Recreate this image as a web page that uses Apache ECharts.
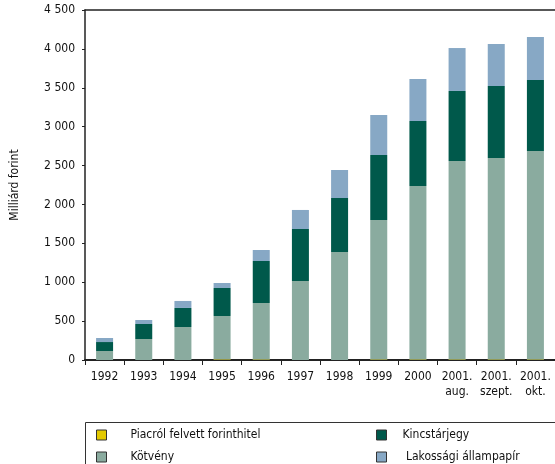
<html>
    <head>
        <meta charset="UTF-8" />
        <script src="https://cdn.jsdelivr.net/npm/echarts@6/dist/echarts.min.js"></script>
        <style>
            body { margin: 0; background: #fff; }
        </style>
    </head>
    <body>
        <div id="container" style="width: 555px; height: 464px;"></div>
        <script>
            // kategóriák
            var categories = ['1992', '1993', '1994', '1995', '1996', '1997', '1998', '1999', '2000', '2001.\naug.', '2001.\nszept.', '2001.\nokt.'];
            // milliárd forint
            var piacrol = [0, 0, 0, 8, 8, 0, 0, 8, 8, 8, 8, 8];
            var kotveny = [116, 270, 424, 558, 725, 1016, 1389, 1792, 2229, 2551, 2589, 2679];
            var kincstarjegy = [115, 193, 245, 360, 540, 668, 694, 836, 836, 900, 926, 913];
            var lakossagi = [52, 51, 90, 64, 141, 245, 360, 514, 540, 552, 540, 553];
            var yTicks = [0, 500, 1000, 1500, 2000, 2500, 3000, 3500, 4000, 4500];

            var font = "'Liberation Sans Narrow', 'DejaVu Sans Condensed', sans-serif";
            var colors = {
                piacrol: '#e3c900',
                kotveny: '#8aab9f',
                kincstarjegy: '#00594b',
                lakossagi: '#87a8c5'
            };

            function fmt(v) {
                var s = String(v);
                if (s.length > 3) {
                    s = s.slice(0, s.length - 3) + ' ' + s.slice(s.length - 3);
                }
                return s;
            }

            function legendBox(names, left, gap) {
                return {
                    data: names,
                    orient: 'vertical',
                    left: left,
                    top: 429,
                    height: 40,
                    padding: 0,
                    itemWidth: 10,
                    itemHeight: 10,
                    itemGap: 10,
                    selectedMode: false,
                    icon: 'rect',
                    itemStyle: { borderColor: '#333', borderWidth: 1 },
                    formatter: function (name) {
                        return name === 'Lakossági állampapír' ? ' ' + name : name;
                    },
                    textStyle: {
                        fontFamily: font,
                        fontSize: 12,
                        color: '#111',
                        padding: [0, 0, 0, gap]
                    }
                };
            }

            var chart = echarts.init(document.getElementById('container'));

            var option = {
                animation: false,
                textStyle: { fontFamily: font },
                grid: { left: 85, right: -4, top: 10, bottom: 104, containLabel: false },
                legend: [
                    legendBox(['Piacról felvett forinthitel', 'Kötvény'], 96, 19),
                    legendBox(['Kincstárjegy', 'Lakossági állampapír'], 376, 11)
                ],
                graphic: [{
                    type: 'rect',
                    shape: { x: 85.5, y: 422.5, width: 480, height: 60 },
                    style: { fill: 'none', stroke: '#333', lineWidth: 1 }
                }],
                xAxis: [{
                    type: 'category',
                    data: categories,
                    boundaryGap: true,
                    axisLine: { lineStyle: { color: '#222', width: 2 } },
                    axisTick: { show: true, length: 5, lineStyle: { color: '#222', width: 1 } },
                    axisLabel: {
                        color: '#111',
                        fontSize: 12,
                        fontFamily: font,
                        margin: 9,
                        lineHeight: 15,
                        interval: 0
                    }
                }, {
                    type: 'category',
                    data: categories,
                    position: 'top',
                    axisLine: { lineStyle: { color: '#222', width: 1.5 } },
                    axisTick: { show: false },
                    axisLabel: { show: false }
                }],
                yAxis: {
                    type: 'value',
                    min: 0,
                    max: 4500,
                    interval: 500,
                    name: 'Milliárd forint',
                    nameLocation: 'middle',
                    nameGap: 64,
                    nameTextStyle: { fontFamily: font, fontSize: 12, color: '#111' },
                    axisLine: { show: true, lineStyle: { color: '#222', width: 1.5 } },
                    axisTick: { show: true, length: 3, lineStyle: { color: '#222' } },
                    splitLine: { show: false },
                    axisLabel: {
                        color: '#111',
                        fontSize: 12,
                        fontFamily: font,
                        margin: 10,
                        formatter: function (v) {
                            return yTicks.indexOf(v) >= 0 ? fmt(v) : '';
                        }
                    }
                },
                series: [{
                    name: 'Piacról felvett forinthitel',
                    type: 'bar',
                    stack: 'total',
                    barWidth: 17,
                    data: piacrol,
                    itemStyle: { color: colors.piacrol },
                    emphasis: { disabled: true }
                }, {
                    name: 'Kötvény',
                    type: 'bar',
                    stack: 'total',
                    barWidth: 17,
                    data: kotveny,
                    itemStyle: { color: colors.kotveny },
                    emphasis: { disabled: true }
                }, {
                    name: 'Kincstárjegy',
                    type: 'bar',
                    stack: 'total',
                    barWidth: 17,
                    data: kincstarjegy,
                    itemStyle: { color: colors.kincstarjegy },
                    emphasis: { disabled: true }
                }, {
                    name: 'Lakossági állampapír',
                    type: 'bar',
                    stack: 'total',
                    barWidth: 17,
                    data: lakossagi,
                    itemStyle: { color: colors.lakossagi },
                    emphasis: { disabled: true }
                }]
            };

            chart.setOption(option);
        </script>
    </body>
</html>
